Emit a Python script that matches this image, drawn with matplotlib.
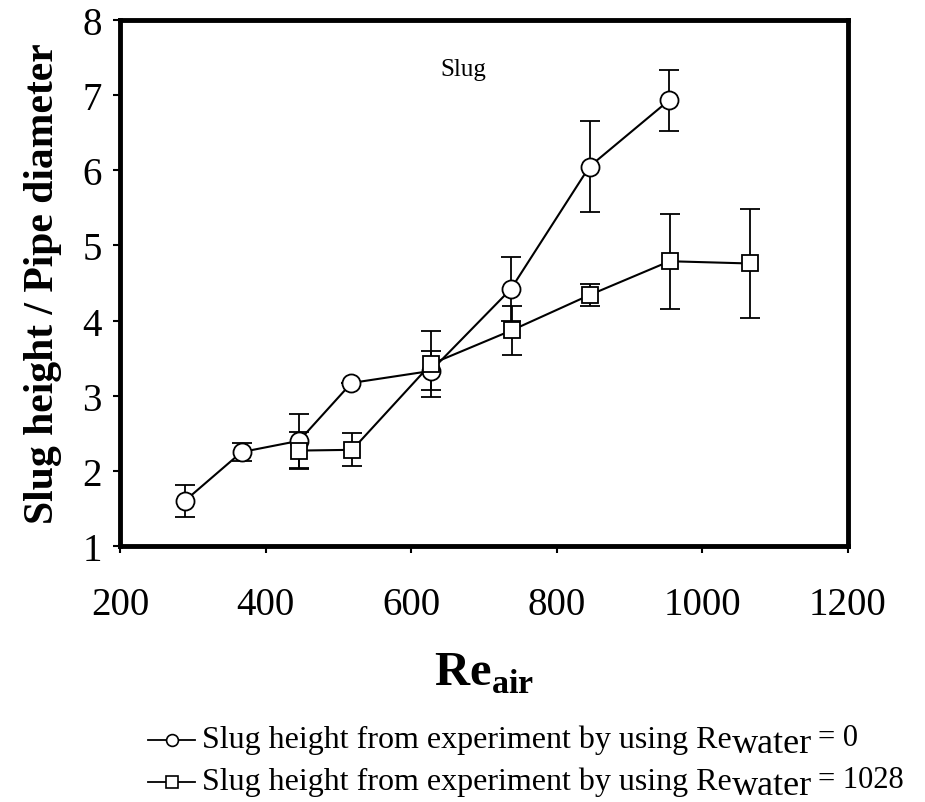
import matplotlib
matplotlib.use("Agg")
import matplotlib.pyplot as plt
from matplotlib.lines import Line2D

# --- data ---
re_air_w0 = [289, 367, 446, 518, 627, 737, 845, 954]
slug_w0 = [1.60, 2.25, 2.40, 3.17, 3.33, 4.42, 6.05, 6.93]
err_w0 = [0.21, 0.12, 0.36, 0.0, 0.26, 0.42, 0.60, 0.41]

re_air_w1028 = [446, 519, 627, 738, 845, 955, 1065]
slug_w1028 = [2.27, 2.28, 3.42, 3.87, 4.34, 4.79, 4.76]
err_w1028 = [0.25, 0.22, 0.44, 0.33, 0.15, 0.63, 0.73]

legend_text = "Slug height from experiment by using Re"
legend_sub = "water"
legend_values = ["0", "1028"]
legend_markers = ["o", "s"]

plt.rcParams["font.family"] = ["Liberation Serif", "DejaVu Serif"]
plt.rcParams["mathtext.fontset"] = "custom"
plt.rcParams["mathtext.rm"] = "Liberation Serif"
plt.rcParams["mathtext.bf"] = "Liberation Serif:bold"

fig = plt.figure(figsize=(9.25, 8.03), dpi=100)
W, H = 925.0, 803.0
ax = fig.add_axes([0.1297, 0.3188, 0.787, 0.655])

common = dict(color="black", lw=1.5, mfc="white", mec="black", mew=1.3,
              ecolor="black", elinewidth=1.3, capsize=7, capthick=1.3)
ax.errorbar(re_air_w0, slug_w0, yerr=err_w0, marker="o", ms=13, **common)
ax.errorbar(re_air_w1028, slug_w1028, yerr=err_w1028, marker="s", ms=11.5, **common)

ax.set_xlim(200, 1200)
ax.set_ylim(1, 8)
ax.set_xticks([200, 400, 600, 800, 1000, 1200])
ax.set_yticks(range(1, 9))
ax.tick_params(direction="out", length=5, width=1.5, labelsize=28)
ax.tick_params(axis="x", pad=24)
ax.tick_params(axis="y", pad=8)
for s in ax.spines.values():
    s.set_linewidth(3.5)

ax.set_ylabel("Slug height / Pipe diameter", fontsize=30, fontweight="bold", labelpad=15)
ax.set_xlabel(r"$\mathbf{Re}_{\mathbf{air}}$", fontsize=35, labelpad=20)
ax.text(671, 7.35, "Slug", fontsize=18, ha="center", va="center")

# --- key below the plot, built by hand so the subscript stays full size ---
renderer = fig.canvas.get_renderer()
baselines = [748, 790]  # px from top
for val, mk, yb in zip(legend_values, legend_markers, baselines):
    yh = 1 - (yb - 7) / H
    fig.add_artist(Line2D([148 / W, 195 / W], [yh, yh], transform=fig.transFigure,
                          color="black", lw=1.3))
    fig.add_artist(Line2D([171.5 / W], [yh], transform=fig.transFigure, marker=mk,
                          ms=8.5 if mk == "o" else 8, mfc="white", mec="black",
                          mew=1.2, ls="none"))
    t = fig.text(202 / W, 1 - yb / H, legend_text, fontsize=23, va="baseline")
    x1 = t.get_window_extent(renderer).x1
    s = fig.text(x1 / W, 1 - (yb + 5) / H, legend_sub, fontsize=26, va="baseline")
    x2 = s.get_window_extent(renderer).x1
    fig.text((x2 + 6) / W, 1 - (yb - 2) / H, "= " + val, fontsize=22, va="baseline")

fig.savefig("out.png", dpi=100, facecolor="white")
